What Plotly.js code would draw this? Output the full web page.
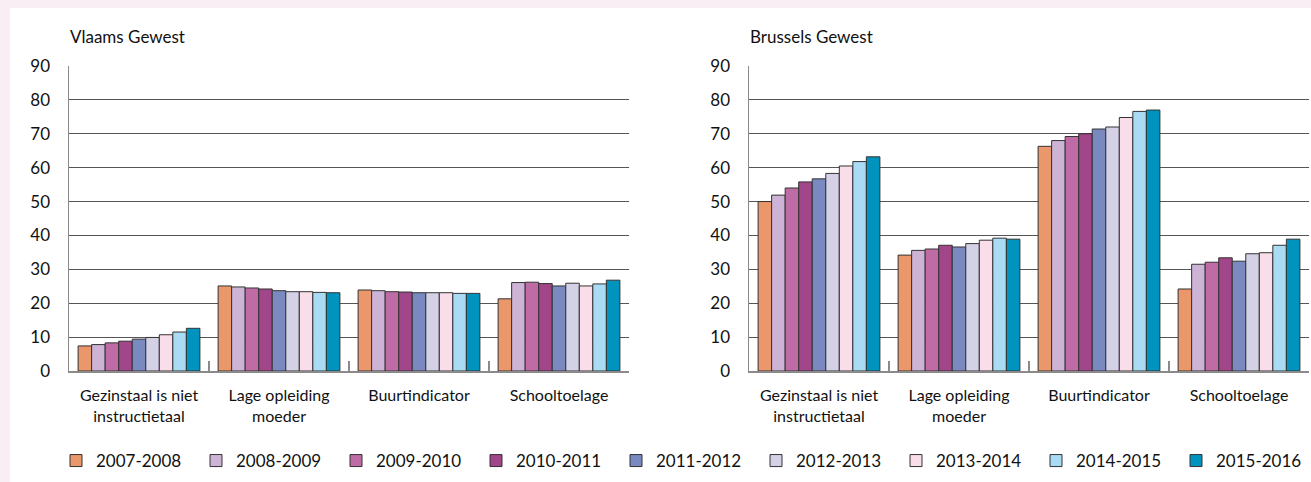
<!DOCTYPE html>
<html>
<head>
<meta charset="utf-8">
<script src="https://cdn.plot.ly/plotly-3.0.1.min.js"></script>
<style>html,body{margin:0;padding:0;background:#fff;}#chart{width:1311px;height:482px;}</style>
</head>
<body>
<div id="chart"></div>
<script>
// Categories and series
const categories = ["Gezinstaal is niet<br>instructietaal", "Lage opleiding<br>moeder", "Buurtindicator", "Schooltoelage"];
const years = ["2007-2008", "2008-2009", "2009-2010", "2010-2011", "2011-2012", "2012-2013", "2013-2014", "2014-2015", "2015-2016"];
const colors = ["#EA976B", "#CDB4D6", "#BF6CA6", "#A14688", "#7A8AC1", "#D4D1E7", "#F9DDE9", "#A9DBF5", "#0093BE"];

// Vlaams Gewest values per category (one value per school year)
const vlaamsGezinstaal = [7.4, 7.8, 8.3, 8.8, 9.4, 9.9, 10.7, 11.5, 12.6];
const vlaamsLageOpleiding = [25.1, 24.8, 24.5, 24.2, 23.7, 23.4, 23.4, 23.2, 23.1];
const vlaamsBuurt = [23.9, 23.7, 23.4, 23.3, 23.1, 23.1, 23.1, 22.9, 22.9];
const vlaamsSchooltoelage = [21.3, 26.1, 26.2, 25.8, 25.1, 25.9, 25.1, 25.7, 26.8];

// Brussels Gewest values per category
const brusselsGezinstaal = [50.0, 51.9, 54.0, 55.8, 56.7, 58.3, 60.5, 61.8, 63.2];
const brusselsLageOpleiding = [34.2, 35.6, 36.0, 37.1, 36.6, 37.6, 38.6, 39.2, 38.9];
const brusselsBuurt = [66.3, 68.0, 69.2, 70.0, 71.4, 72.0, 74.8, 76.6, 77.0];
const brusselsSchooltoelage = [24.2, 31.5, 32.1, 33.4, 32.4, 34.6, 34.9, 37.1, 38.9];

const yTicks = [0, 10, 20, 30, 40, 50, 60, 70, 80, 90];

const vlaams = [vlaamsGezinstaal, vlaamsLageOpleiding, vlaamsBuurt, vlaamsSchooltoelage];
const brussels = [brusselsGezinstaal, brusselsLageOpleiding, brusselsBuurt, brusselsSchooltoelage];

const FONT = "Lato, 'Open Sans', sans-serif";
const W = 1311, H = 482;

const traces = [];
years.forEach((yr, i) => {
  traces.push({
    type: "bar", name: yr, x: categories, y: vlaams.map(c => c[i]),
    xaxis: "x", yaxis: "y", legendgroup: yr, showlegend: true,
    marker: {color: colors[i], line: {color: "#333", width: 1}},
    hoverinfo: "x+y+name"
  });
  traces.push({
    type: "bar", name: yr, x: categories, y: brussels.map(c => c[i]),
    xaxis: "x2", yaxis: "y2", legendgroup: yr, showlegend: false,
    marker: {color: colors[i], line: {color: "#333", width: 1}},
    hoverinfo: "x+y+name"
  });
});

const yDomain = [(H - 371) / H, (H - 66) / H];
function xAxis(domain, anchor) {
  return {
    domain: domain, anchor: anchor, type: "category",
    showgrid: false, zeroline: false,
    showline: true, linecolor: "#8a8a8a", linewidth: 1.5,
    ticks: "inside", tickson: "boundaries", ticklen: 10, tickcolor: "#8a8a8a", tickwidth: 1.5,
    tickfont: {family: FONT, size: 16, color: "#111"},
    ticklabelstandoff: 9,
    automargin: false, fixedrange: true
  };
}
function yAxis(anchor) {
  return {
    domain: yDomain, anchor: anchor, range: [0, 90], tickvals: yTicks,
    showgrid: true, gridcolor: "#555", gridwidth: 1,
    zeroline: false, showline: true, linecolor: "#8a8a8a", linewidth: 1.5,
    ticks: "", tickfont: {family: FONT, size: 17, color: "#111"},
    ticklabelstandoff: 14, automargin: false, fixedrange: true
  };
}

const layout = {
  width: W, height: H,
  margin: {l: 0, r: 0, t: 0, b: 0, autoexpand: false},
  paper_bgcolor: "#F8EEF3", plot_bgcolor: "rgba(0,0,0,0)",
  barmode: "group", bargap: 0.13, bargroupgap: 0,
  font: {family: FONT, color: "#111"},
  xaxis: xAxis([69 / W, 629 / W], "y"),
  yaxis: yAxis("x"),
  xaxis2: xAxis([749 / W, 1309 / W], "y2"),
  yaxis2: yAxis("x2"),
  shapes: [{
    type: "rect", xref: "paper", yref: "paper", layer: "below",
    x0: 10 / W, x1: 1, y0: 0, y1: (H - 8) / H,
    fillcolor: "#ffffff", line: {width: 0}
  }],
  annotations: [
    {text: "Vlaams Gewest", xref: "paper", yref: "paper", x: 68 / W, y: (H - 37) / H,
     xanchor: "left", yanchor: "middle", showarrow: false, font: {family: FONT, size: 17, color: "#111"}},
    {text: "Brussels Gewest", xref: "paper", yref: "paper", x: 748 / W, y: (H - 37) / H,
     xanchor: "left", yanchor: "middle", showarrow: false, font: {family: FONT, size: 17, color: "#111"}}
  ],
  showlegend: true,
  legend: {
    orientation: "h", x: 56 / W, xanchor: "left", y: 21 / H, yanchor: "middle",
    entrywidth: 95, entrywidthmode: "pixels", traceorder: "normal",
    font: {family: FONT, size: 17, color: "#111"}, bgcolor: "rgba(0,0,0,0)", borderwidth: 0
  }
};

Plotly.newPlot("chart", traces, layout, {displayModeBar: false, staticPlot: true});
</script>
</body>
</html>
